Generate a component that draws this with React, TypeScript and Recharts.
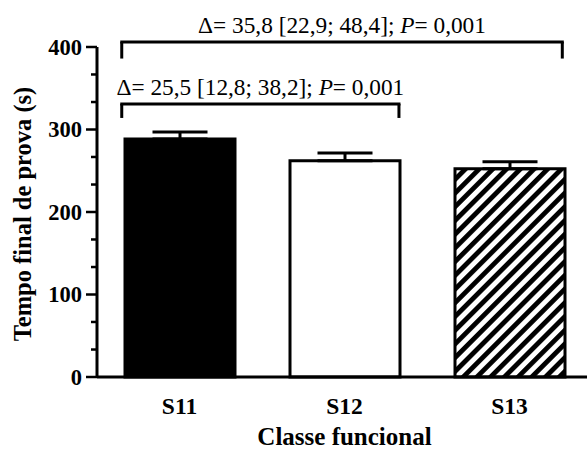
import React from "react";
import {
  BarChart, Bar, XAxis, YAxis, Cell, ErrorBar, ReferenceLine,
} from "recharts";

// groups and their means / upper SD
const categories = ["S11", "S12", "S13"];
const means = [288.5, 262, 252.5];
const sds = [8.5, 9.5, 8.5];
const fills = ["#000000", "#ffffff", "url(#hatch)"];

const yMajorTicks = [0, 100, 200, 300, 400];
const yTicks = [0, 33.3, 66.7, 100, 133.3, 166.7, 200, 233.3, 266.7, 300, 333.3, 366.7, 400];

// comparison brackets (x in axis units, y in seconds)
const bracketFrom = [0.65, 0.65];
const bracketTo = [2.33, 3.32];
const bracketTop = [331, 406];
const bracketFoot = [314, 386];
const bracketDelta = ["Δ= 25,5 [12,8; 38,2]; ", "Δ= 35,8 [22,9; 48,4]; "];
const bracketP = ["0,001", "0,001"];

const FONT = '"Liberation Serif", "Times New Roman", serif';

const data = categories.map((name, i) => ({
  pos: i + 1,
  name,
  mean: means[i],
  err: [0, sds[i]],
}));

const YTick = (props: any) => {
  const { x, y, payload } = props;
  const major = yMajorTicks.includes(payload.value);
  return (
    <g>
      <line x1={x - (major ? 11 : 6)} x2={x} y1={y} y2={y} stroke="#000" strokeWidth={2.5} />
      {major && (
        <text x={x - 15} y={y} dy="0.355em" textAnchor="end" fontFamily={FONT} fontWeight="bold" fontSize={22.5} fill="#000">
          {payload.value}
        </text>
      )}
    </g>
  );
};

const YTitle = (props: any) => {
  const vb = props.viewBox;
  const cx = 22;
  const cy = vb.y + vb.height / 2 + 2;
  return (
    <text x={cx} y={cy} transform={`rotate(-90 ${cx} ${cy})`} textAnchor="middle" dominantBaseline="central"
      fontFamily={FONT} fontWeight="bold" fontSize={24.5} fill="#000">
      Tempo final de prova (s)
    </text>
  );
};

const bracketLabel = (i: number) => (props: any) => {
  const vb = props.viewBox;
  return (
    <text x={vb.x + vb.width / 2} y={vb.y - 9} textAnchor="middle" fontFamily={FONT} fontSize={23.3} fill="#000">
      {bracketDelta[i]}
      <tspan fontStyle="italic">P</tspan>
      {"= " + bracketP[i]}
    </text>
  );
};

export default function App() {
  return (
    <div style={{ position: "absolute", left: 0, top: 0, width: 587, height: 450, overflow: "hidden", background: "#fff" }}>
      <BarChart width={600} height={450} data={data} margin={{ top: 47, right: 8, bottom: 0, left: 0 }}>
        <defs>
          <pattern id="hatch" width={9.7} height={9.7} patternUnits="userSpaceOnUse" patternTransform="rotate(45)">
            <rect x={0} y={0} width={4.8} height={9.7} fill="#000" />
          </pattern>
        </defs>
        <XAxis
          dataKey="pos"
          type="number"
          domain={[0.5, 3.5]}
          ticks={[1, 2, 3]}
          interval={0}
          tickFormatter={(v) => categories[v - 1]}
          height={73}
          tickSize={0}
          tickMargin={20}
          tickLine={false}
          axisLine={{ stroke: "#000", strokeWidth: 3 }}
          tick={{ fontFamily: FONT, fontWeight: "bold", fontSize: 23.5, fill: "#000" }}
          label={{ value: "Classe funcional", position: "insideBottom", offset: 5, style: { fontFamily: FONT, fontWeight: "bold", fontSize: 25, fill: "#000" } }}
        />
        <YAxis
          domain={[0, 400]}
          ticks={yTicks}
          interval={0}
          width={97}
          tickSize={0}
          tickMargin={0}
          tickLine={false}
          axisLine={{ stroke: "#000", strokeWidth: 3 }}
          tick={<YTick />}
          label={YTitle}
        />
        <Bar dataKey="mean" barSize={110} stroke="#000" strokeWidth={3} isAnimationActive={false}>
          {data.map((d, i) => (
            <Cell key={d.name} fill={fills[i]} />
          ))}
          <ErrorBar dataKey="err" direction="y" width={27.5} stroke="#000" strokeWidth={3} />
        </Bar>
        {bracketFrom.map((x1, i) => (
          <React.Fragment key={i}>
            <ReferenceLine ifOverflow="visible" stroke="#000" strokeWidth={3}
              segment={[{ x: x1, y: bracketFoot[i] }, { x: x1, y: bracketTop[i] }]} />
            <ReferenceLine ifOverflow="visible" stroke="#000" strokeWidth={3} strokeLinecap="square"
              segment={[{ x: x1, y: bracketTop[i] }, { x: bracketTo[i], y: bracketTop[i] }]}
              label={bracketLabel(i)} />
            <ReferenceLine ifOverflow="visible" stroke="#000" strokeWidth={3}
              segment={[{ x: bracketTo[i], y: bracketFoot[i] }, { x: bracketTo[i], y: bracketTop[i] }]} />
          </React.Fragment>
        ))}
      </BarChart>
    </div>
  );
}
